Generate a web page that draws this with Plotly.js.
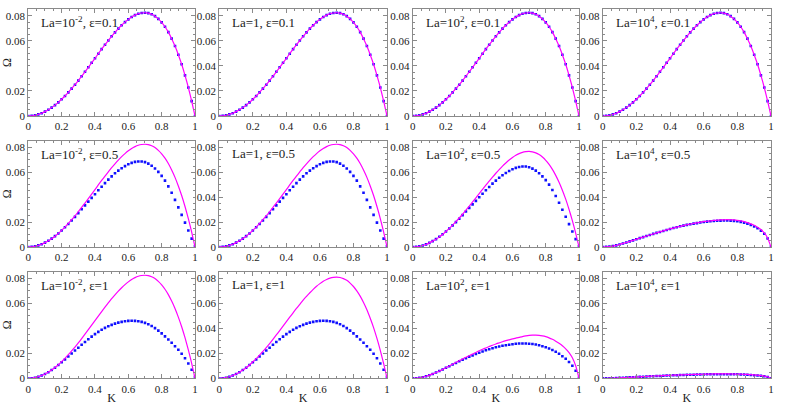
<!DOCTYPE html>
<html><head><meta charset="utf-8">
<script src="https://cdn.plot.ly/plotly-3.0.1.min.js"></script>
<style>html,body{margin:0;padding:0;background:#fff}#chart{width:789px;height:407px}</style>
</head><body><div id="chart"></div>
<script>
// wavenumber K
const K = [0,0.02,0.04,0.06,0.08,0.10,0.12,0.14,0.16,0.18,0.20,0.22,0.24,0.26,0.28,0.30,0.32,0.34,0.36,0.38,0.40,0.42,0.44,0.46,0.48,0.50,0.52,0.54,0.56,0.58,0.60,0.62,0.64,0.66,0.68,0.70,0.72,0.74,0.76,0.78,0.80,0.82,0.84,0.86,0.88,0.90,0.92,0.94,0.96,0.98,1.00];

// magenta solid lines
const lineA = [0,0.0001,0.0006,0.0013,0.0022,0.0035,0.0050,0.0067,0.0087,0.0109,0.0134,0.0160,0.0189,0.0219,0.0250,0.0283,0.0318,0.0353,0.0389,0.0425,0.0461,0.0498,0.0534,0.0569,0.0603,0.0637,0.0668,0.0698,0.0725,0.0750,0.0772,0.0791,0.0806,0.0817,0.0823,0.0825,0.0822,0.0813,0.0798,0.0776,0.0748,0.0713,0.0670,0.0618,0.0559,0.0490,0.0413,0.0325,0.0228,0.0119,0];
const lineLa100e05 = [0,0.0001,0.0006,0.0012,0.0020,0.0033,0.0047,0.0062,0.0081,0.0101,0.0125,0.0149,0.0176,0.0204,0.0233,0.0263,0.0296,0.0328,0.0362,0.0395,0.0429,0.0463,0.0497,0.0529,0.0561,0.0592,0.0621,0.0649,0.0674,0.0698,0.0718,0.0736,0.0750,0.0760,0.0765,0.0767,0.0764,0.0756,0.0742,0.0722,0.0696,0.0663,0.0623,0.0575,0.0520,0.0456,0.0384,0.0302,0.0212,0.0111,0];
const lineLa1e4e05 = [0,0.0001,0.0003,0.0007,0.0013,0.0020,0.0028,0.0036,0.0045,0.0053,0.0062,0.0071,0.0079,0.0088,0.0096,0.0105,0.0113,0.0121,0.0129,0.0137,0.0145,0.0152,0.0159,0.0166,0.0172,0.0178,0.0184,0.0189,0.0194,0.0199,0.0203,0.0207,0.0210,0.0213,0.0215,0.0217,0.0218,0.0219,0.0218,0.0217,0.0214,0.0210,0.0204,0.0196,0.0186,0.0174,0.0159,0.0140,0.0114,0.0073,0];
const lineLa1e1 = [0,0.0001,0.0006,0.0012,0.0022,0.0034,0.0049,0.0066,0.0085,0.0107,0.0132,0.0157,0.0186,0.0215,0.0246,0.0278,0.0312,0.0347,0.0382,0.0417,0.0453,0.0489,0.0524,0.0559,0.0592,0.0626,0.0656,0.0685,0.0712,0.0737,0.0758,0.0777,0.0791,0.0802,0.0808,0.0810,0.0807,0.0798,0.0784,0.0762,0.0735,0.0700,0.0658,0.0607,0.0549,0.0481,0.0406,0.0319,0.0224,0.0117,0];
const lineLa100e1 = [0,0.0001,0.0004,0.0009,0.0016,0.0025,0.0035,0.0046,0.0058,0.0071,0.0085,0.0099,0.0113,0.0127,0.0141,0.0155,0.0168,0.0181,0.0194,0.0207,0.0220,0.0232,0.0243,0.0254,0.0265,0.0275,0.0284,0.0293,0.0301,0.0308,0.0315,0.0322,0.0328,0.0334,0.0339,0.0343,0.0345,0.0345,0.0343,0.0339,0.0333,0.0324,0.0312,0.0297,0.0280,0.0260,0.0236,0.0205,0.0164,0.0100,0];
const lineLa1e4e1 = [0,0,0.0001,0.0001,0.0002,0.0004,0.0005,0.0006,0.0008,0.0009,0.0011,0.0012,0.0014,0.0015,0.0017,0.0018,0.0019,0.0020,0.0022,0.0023,0.0024,0.0025,0.0026,0.0027,0.0028,0.0029,0.0030,0.0031,0.0032,0.0032,0.0033,0.0034,0.0034,0.0035,0.0035,0.0035,0.0035,0.0035,0.0035,0.0034,0.0034,0.0033,0.0032,0.0031,0.0029,0.0027,0.0025,0.0022,0.0018,0.0012,0];

// blue dotted series
const dotsE01 = lineA;
const dotsE05 = [0,0.0001,0.0006,0.0013,0.0022,0.0035,0.0050,0.0067,0.0087,0.0108,0.0133,0.0158,0.0185,0.0213,0.0242,0.0272,0.0303,0.0334,0.0364,0.0394,0.0424,0.0455,0.0484,0.0513,0.0541,0.0567,0.0592,0.0613,0.0632,0.0649,0.0664,0.0675,0.0683,0.0687,0.0687,0.0681,0.0669,0.0652,0.0630,0.0603,0.0571,0.0533,0.0487,0.0435,0.0378,0.0318,0.0258,0.0196,0.0132,0.0067,0.0005];
const dotsLa100e05 = [0,0.0001,0.0006,0.0012,0.0021,0.0033,0.0047,0.0063,0.0082,0.0102,0.0125,0.0149,0.0174,0.0200,0.0227,0.0256,0.0285,0.0314,0.0342,0.0370,0.0399,0.0428,0.0455,0.0482,0.0509,0.0533,0.0556,0.0576,0.0594,0.0610,0.0624,0.0635,0.0642,0.0646,0.0646,0.0640,0.0629,0.0613,0.0592,0.0567,0.0537,0.0501,0.0458,0.0409,0.0355,0.0299,0.0243,0.0184,0.0124,0.0063,0.0005];
const dotsLa1e4e05 = [0,0.0001,0.0003,0.0007,0.0013,0.0020,0.0028,0.0036,0.0045,0.0053,0.0062,0.0071,0.0079,0.0088,0.0096,0.0105,0.0113,0.0121,0.0129,0.0137,0.0145,0.0152,0.0159,0.0166,0.0172,0.0178,0.0183,0.0188,0.0192,0.0197,0.0201,0.0204,0.0207,0.0209,0.0211,0.0212,0.0213,0.0213,0.0212,0.0210,0.0207,0.0202,0.0196,0.0188,0.0177,0.0165,0.0150,0.0131,0.0106,0.0068,0.0003];
const dotsE1 = [0,0.0001,0.0005,0.0012,0.0022,0.0034,0.0049,0.0066,0.0085,0.0106,0.0128,0.0151,0.0174,0.0198,0.0222,0.0245,0.0268,0.0291,0.0313,0.0334,0.0354,0.0372,0.0389,0.0404,0.0417,0.0428,0.0438,0.0446,0.0452,0.0457,0.0460,0.0461,0.0460,0.0457,0.0452,0.0444,0.0433,0.0419,0.0402,0.0382,0.0360,0.0336,0.0311,0.0285,0.0257,0.0228,0.0196,0.0160,0.0119,0.0068,0.0010];
const dotsLa100e1 = [0,0.0001,0.0004,0.0009,0.0016,0.0025,0.0035,0.0046,0.0058,0.0071,0.0084,0.0097,0.0110,0.0123,0.0136,0.0148,0.0160,0.0172,0.0183,0.0194,0.0205,0.0215,0.0224,0.0233,0.0241,0.0248,0.0254,0.0260,0.0265,0.0269,0.0273,0.0276,0.0278,0.0279,0.0279,0.0277,0.0274,0.0270,0.0264,0.0257,0.0249,0.0239,0.0227,0.0213,0.0196,0.0177,0.0156,0.0131,0.0101,0.0060,0.0005];
const dotsLa1e4e1 = [0,0,0.0001,0.0001,0.0002,0.0004,0.0005,0.0006,0.0008,0.0009,0.0011,0.0012,0.0013,0.0015,0.0016,0.0017,0.0018,0.0019,0.0021,0.0022,0.0023,0.0024,0.0025,0.0026,0.0027,0.0028,0.0029,0.0029,0.0030,0.0031,0.0031,0.0032,0.0032,0.0033,0.0033,0.0033,0.0033,0.0033,0.0033,0.0032,0.0032,0.0031,0.0030,0.0029,0.0027,0.0025,0.0023,0.0020,0.0016,0.0010,0.0001];

const panelLabels = [
  'La=10<sup>-2</sup>, ε=0.1','La=1, ε=0.1','La=10<sup>2</sup>, ε=0.1','La=10<sup>4</sup>, ε=0.1',
  'La=10<sup>-2</sup>, ε=0.5','La=1, ε=0.5','La=10<sup>2</sup>, ε=0.5','La=10<sup>4</sup>, ε=0.5',
  'La=10<sup>-2</sup>, ε=1','La=1, ε=1','La=10<sup>2</sup>, ε=1','La=10<sup>4</sup>, ε=1'];
const panelLines = [lineA,lineA,lineA,lineA, lineA,lineA,lineLa100e05,lineLa1e4e05, lineA,lineLa1e1,lineLa100e1,lineLa1e4e1];
const panelDots = [dotsE01,dotsE01,dotsE01,dotsE01, dotsE05,dotsE05,dotsLa100e05,dotsLa1e4e05, dotsE1,dotsE1,dotsLa100e1,dotsLa1e4e1];
const yTickVals = [0,0.02,0.04,0.06,0.08];
const yTickText = ['0','0.02','0.04','0.06','0.08'];
const yTickValsFirst = [0,0.02,0.06,0.08];
const yTickTextFirst = ['0','0.02','0.06','0.08'];

const W = 789, H = 407;
const colPx = [[28.3,195],[219.3,387],[412.7,579],[602.7,771]];
const rowPx = [[9,116],[140.5,247],[271.5,378.3]];
const FONT = '"Liberation Serif", "Times New Roman", serif';
const frameColor = '#8a8a8a';

const layout = {
  width: W, height: H, margin: {l:0,r:0,t:0,b:0},
  paper_bgcolor: '#fff', plot_bgcolor: '#fff', showlegend: false,
  font: {family: FONT, size: 11, color: '#222'},
  annotations: []
};
const data = [];
for (let i = 0; i < 12; i++) {
  const r = Math.floor(i/4), c = i % 4, n = i+1;
  const xs = n === 1 ? '' : String(n);
  const xa = 'x'+xs, ya = 'y'+xs;
  layout['xaxis'+xs] = {
    domain: [colPx[c][0]/W, colPx[c][1]/W], anchor: ya, range: [0,1],
    showline: true, linecolor: frameColor, linewidth: 1, mirror: 'allticks',
    ticks: 'inside', ticklen: 4, tickcolor: frameColor, dtick: 0.2, tick0: 0,
    minor: {ticks: 'inside', ticklen: 2, tickcolor: frameColor, dtick: 0.05, tick0: 0},
    showgrid: false, zeroline: false, fixedrange: true,
    tickfont: {family: FONT, size: 11, color: '#222'}
  };
  if (r === 2) layout['xaxis'+xs].title = {text: 'K', font: {family: FONT, size: 12, color: '#222'}, standoff: 0};
  layout['yaxis'+xs] = {
    domain: [1-rowPx[r][1]/H, 1-rowPx[r][0]/H], anchor: xa, range: [0,0.0855],
    showline: true, linecolor: frameColor, linewidth: 1, mirror: 'allticks',
    ticks: 'inside', ticklen: 4, tickcolor: frameColor,
    tickmode: 'array', tickvals: c === 0 ? yTickValsFirst : yTickVals, ticktext: c === 0 ? yTickTextFirst : yTickText,
    minor: {ticks: 'inside', ticklen: 2, tickcolor: frameColor, tickmode: 'linear', dtick: 0.005, tick0: 0},
    showgrid: false, zeroline: false, fixedrange: true,
    tickfont: {family: FONT, size: 11, color: '#222'}
  };
  if (c === 0) layout['yaxis'+xs].title = {text: 'Ω', font: {family: FONT, size: 12, color: '#222'}, standoff: 2};
  data.push({x: K, y: panelDots[i], xaxis: xa, yaxis: ya, type: 'scatter', mode: 'markers',
    marker: {symbol: 'square', size: 2.6, color: '#1010ff', line: {width: 0}}, hoverinfo: 'skip'});
  data.push({x: K, y: panelLines[i], xaxis: xa, yaxis: ya, type: 'scatter', mode: 'lines',
    line: {color: '#ff00ff', width: 1.2, shape: 'spline', smoothing: 0.6}, hoverinfo: 'skip'});
  layout.annotations.push({xref: xa+' domain', yref: ya+' domain', x: 0.065, y: 0.875,
    xanchor: 'left', yanchor: 'middle', showarrow: false, text: panelLabels[i],
    font: {family: FONT, size: 13, color: '#222'}});
}
Plotly.newPlot('chart', data, layout, {staticPlot: true, displayModeBar: false});
</script>
</body></html>
